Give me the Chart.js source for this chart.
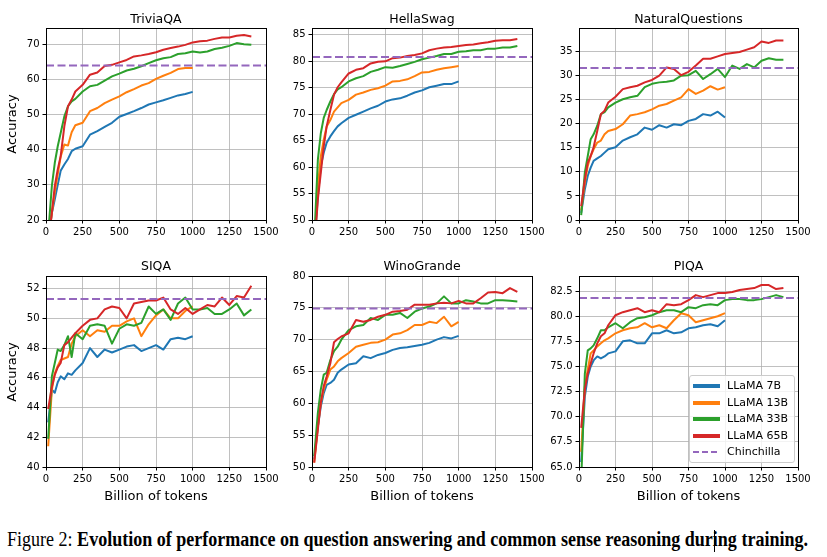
<!DOCTYPE html>
<html>
<head>
<meta charset="utf-8">
<script src="https://cdn.jsdelivr.net/npm/chart.js@4.4.1/dist/chart.umd.min.js"></script>
<style>
html,body{margin:0;padding:0;background:#fff;}
body{width:827px;height:557px;position:relative;overflow:hidden;font-family:'DejaVu Sans',sans-serif;color:#000;}
canvas{position:absolute;}
.ptitle{position:absolute;font-size:12.5px;line-height:15px;text-align:center;white-space:nowrap;}
.xlab{position:absolute;font-size:13px;line-height:16px;text-align:center;white-space:nowrap;}
.ylab{position:absolute;font-size:13px;line-height:16px;width:120px;height:16px;text-align:center;white-space:nowrap;transform:rotate(-90deg);}
#legend{position:absolute;left:689px;top:375px;width:104px;height:86px;border:1px solid #cccccc;border-radius:3px;background:rgba(255,255,255,0.8);z-index:5;}
.lrow{position:absolute;left:0;height:16px;width:104px;}
.lh{position:absolute;left:3px;width:27px;top:6px;height:4px;}
.lt{position:absolute;left:37px;top:0;font-size:11px;line-height:16px;white-space:nowrap;}
#caption{position:absolute;left:7px;top:529px;font-family:'Liberation Serif','Times New Roman',serif;font-size:20px;line-height:20px;white-space:nowrap;transform-origin:0 0;}
#caption b{font-weight:bold;}
#cursor{position:absolute;left:714px;top:530px;width:1px;height:22px;background:#000;z-index:6;}
</style>
</head>
<body>
<div id="legend"></div>
<div id="caption">Figure 2: <b>Evolution of performance on question answering and common sense reasoning during training.</b></div>
<div id="cursor"></div>
<script>
// ---------- data ----------
const benchmarks = ['TriviaQA', 'HellaSwag', 'NaturalQuestions', 'SIQA', 'WinoGrande', 'PIQA'];
const models = ['LLaMA 7B', 'LLaMA 13B', 'LLaMA 33B', 'LLaMA 65B'];
const tokensShort = [15, 40, 60, 80, 100, 125, 150, 175, 200, 250, 300, 350, 400, 450, 500, 550, 600, 650, 700, 750, 800, 850, 900, 950, 1000];
const tokensLong = [15, 40, 60, 80, 100, 125, 150, 175, 200, 250, 300, 350, 400, 450, 500, 550, 600, 650, 700, 750, 800, 850, 900, 950, 1000, 1050, 1100, 1150, 1200, 1250, 1300, 1350, 1400];
const xTicks = [0, 250, 500, 750, 1000, 1250, 1500];

const triviaqa7 = [14, 22, 25.9, 30, 34, 35.8, 37.4, 39.6, 40.3, 41, 44.3, 45.3, 46.5, 47.7, 49.4, 50.2, 51, 51.9, 52.9, 53.5, 54.1, 54.8, 55.5, 55.9, 56.5];
const triviaqa13 = [14, 22, 28, 33, 38, 41.5, 41.2, 45, 47, 47.7, 51, 51.9, 53.3, 54.3, 55.2, 56.4, 57.3, 58.3, 59, 60.2, 61.1, 61.9, 63, 63.3, 63.3];
const triviaqa33 = [16, 29.7, 36.3, 41, 44.8, 49.5, 52.4, 53.8, 54.5, 56.6, 58.1, 58.5, 59.7, 60.9, 61.7, 62.6, 63.1, 63.8, 64.7, 65.5, 66.1, 66.4, 67.3, 67.5, 68, 67.7, 68, 68.7, 69.1, 69.6, 70.4, 70.1, 69.9];
const triviaqa65 = [13, 22, 29.7, 34.4, 38.2, 46.7, 52.4, 54.3, 56.6, 58.5, 61.4, 62, 63.9, 64.2, 64.9, 65.6, 66.6, 66.9, 67.3, 67.8, 68.5, 69, 69.4, 69.9, 70.6, 70.9, 71.1, 71.6, 72, 72, 72.5, 72.7, 72.3];

const hellaswag7 = [45, 54.5, 60.2, 62.7, 64.6, 65.8, 66.8, 67.7, 68.3, 69.3, 69.9, 70.5, 71.1, 71.6, 72.4, 72.8, 73, 73.5, 74.1, 74.5, 75.1, 75.4, 75.7, 75.7, 76.2];
const hellaswag13 = [45, 56.4, 62, 65.2, 67.7, 68.9, 70.5, 71.3, 72.1, 72.7, 73.7, 74.1, 74.6, 74.9, 75.4, 76.2, 76.3, 76.6, 77.2, 77.9, 78, 78.4, 78.7, 78.9, 79.1];
const hellaswag33 = [46, 61.4, 66.4, 69.3, 70.8, 72.4, 73.8, 74.7, 75.1, 76.2, 76.8, 77.2, 78, 78.4, 78.9, 78.8, 79.1, 79.5, 79.9, 80.4, 80.7, 81, 81.4, 81.4, 81.8, 81.9, 82.1, 82.1, 82.4, 82.4, 82.6, 82.6, 82.9];
const hellaswag65 = [44, 53.9, 58.9, 63.9, 67.7, 70.8, 73.7, 75.1, 76, 77.7, 78.4, 78.7, 79.6, 79.9, 80, 80.6, 80.7, 81, 81.2, 81.5, 82.1, 82.4, 82.6, 82.7, 82.9, 83.1, 83.2, 83.4, 83.6, 83.9, 84, 84, 84.2];

const nq7 = [1.5, 6.4, 9.2, 10.9, 12.3, 12.8, 13.3, 14, 14.7, 15.1, 16.5, 17.2, 17.8, 19.2, 18.75, 19.7, 19.2, 19.9, 19.7, 20.6, 21, 22, 21.7, 22.5, 21.3];
const nq13 = [2, 7.8, 11.25, 13.3, 14.7, 16.1, 16.5, 17.8, 18.5, 18.9, 19.9, 21.7, 22, 22.4, 23, 23.75, 24.1, 24.8, 25.5, 27.2, 26.2, 26.9, 27.8, 27.1, 27.6];
const nq33 = [1, 9.9, 13.3, 16.8, 17.8, 19.6, 22, 22.4, 23.4, 24.4, 25.1, 25.5, 25.8, 27.6, 28.3, 28.6, 28.75, 29, 30, 30.1, 31, 29.3, 30.3, 31.4, 29.7, 32.1, 31.4, 32.4, 31.7, 33.1, 33.6, 33.3, 33.3];
const nq65 = [2.9, 8.5, 11.9, 13.3, 15.1, 18.5, 22, 22.7, 24.4, 25.6, 27.2, 27.6, 27.9, 28.6, 29.1, 30, 31.7, 31.4, 30.1, 30.8, 32.1, 33.5, 33.5, 34, 34.5, 34.7, 34.9, 35.4, 35.9, 37.1, 36.8, 37.3, 37.3];

const siqa7 = [43, 45.2, 45, 45.7, 46.1, 45.9, 46.3, 46.2, 46.5, 47, 48, 47.4, 47.9, 47.7, 47.9, 48.1, 48.2, 47.8, 48, 48.2, 47.9, 48.6, 48.7, 48.6, 48.8];
const siqa13 = [41.4, 45.2, 46.3, 46.8, 47.2, 47.3, 47.4, 48.3, 48.8, 49.2, 48.8, 49.2, 49.1, 49.5, 49.5, 49.8, 50, 48.8, 49.6, 50.2, 50.6, 50, 50, 50.5, 50.8];
const siqa33 = [41.9, 46.1, 47, 47.9, 47.8, 48.2, 48.8, 47.4, 49, 48.6, 49.5, 49.6, 49.5, 48.3, 49.3, 49.6, 49.5, 49.7, 50.8, 50.3, 50.6, 49.9, 51, 51.4, 50.6, 50.6, 50.7, 50.3, 50.3, 50.6, 51, 50.2, 50.6];
const siqa65 = [43.9, 45.4, 46.2, 46.7, 47, 48.2, 48.4, 48.7, 49, 49.5, 49.9, 50, 50.6, 50.8, 50.7, 50, 51, 51.1, 51.2, 51.2, 51.4, 50.6, 50.3, 50.7, 50.3, 50.6, 50.9, 50.8, 51.4, 50.9, 51.5, 51.4, 52.2];

const wino7 = [51.2, 56.4, 59.5, 61.6, 62.9, 63.2, 63.7, 64.8, 65.3, 66.1, 66.3, 67.4, 67.1, 67.6, 67.9, 68.4, 68.7, 68.8, 69, 69.2, 69.5, 70, 70.4, 70.2, 70.6];
const wino13 = [50.7, 56.4, 60.1, 62.2, 63.7, 65.3, 65.8, 66.6, 67.1, 67.9, 68.9, 69.2, 69.5, 69.6, 70, 70.8, 71, 71.5, 72.3, 72.3, 72.8, 72.6, 73.6, 72.1, 72.8];
const wino33 = [51.7, 58.5, 62.2, 64.5, 64.8, 66.8, 68.2, 68.9, 70, 71.5, 72.1, 72.3, 73.4, 73.1, 73.9, 73.9, 74.2, 73.4, 74.4, 74.9, 75.2, 75.7, 76.8, 75.7, 75.7, 76.2, 76, 75.7, 75.7, 76.2, 76.2, 76.1, 76];
const wino65 = [50.7, 55.9, 60.1, 62.7, 64.2, 66.3, 69.6, 70.1, 70.5, 71, 73.1, 72.8, 73.1, 73.6, 73.9, 74.4, 74.5, 74.7, 75.5, 75.5, 75.5, 75.7, 75.8, 75.7, 76.1, 75.7, 75.7, 76.5, 77.4, 77.5, 77.3, 78.1, 77.5];

const piqa7 = [65.5, 72, 74, 75, 75.6, 76, 75.8, 76, 76.3, 76.5, 77.5, 77.6, 77.3, 77.3, 78.3, 78.3, 78.6, 78.3, 78.4, 78.8, 78.9, 79.1, 79.2, 79, 79.6];
const piqa13 = [66.5, 73, 74.7, 76.3, 76.6, 77, 77.3, 77.6, 77.8, 78.3, 78.6, 78.8, 78.9, 79.3, 78.9, 79.1, 78.8, 79.6, 80.3, 80.1, 79.4, 79.6, 79.8, 80, 80.3];
const piqa33 = [63.5, 74.3, 76.6, 76.8, 77.1, 77.8, 78.6, 78.6, 78.9, 79.3, 78.8, 79.4, 79.8, 79.9, 80.1, 80.4, 80.6, 80.6, 80.4, 80.9, 80.8, 81.1, 81.2, 81.1, 81.6, 81.7, 81.7, 81.6, 81.6, 81.7, 81.9, 82.1, 81.9];
const piqa65 = [68.9, 72.7, 74.3, 75.3, 76.3, 77.3, 78, 78.3, 79.1, 80.1, 80.4, 80.6, 80.8, 80.4, 80.6, 80.4, 81.2, 81.1, 81.2, 81.6, 82.1, 81.9, 82.1, 82.3, 82.3, 82.4, 82.6, 82.7, 82.8, 83.1, 83.1, 82.7, 82.8];

const chinchilla = [64.0, 80.8, 31.6, 51.3, 74.9, 81.8];
const yMin = [20, 50, 0, 40, 50, 65];
const yMax = [74.7, 86.3, 39.9, 52.85, 80, 84];
const yStep = [10, 5, 5, 2, 5, 2.5];
const yDecimals = [0, 0, 0, 0, 0, 1];

const seriesByPanel = [
  [triviaqa7, triviaqa13, triviaqa33, triviaqa65],
  [hellaswag7, hellaswag13, hellaswag33, hellaswag65],
  [nq7, nq13, nq33, nq65],
  [siqa7, siqa13, siqa33, siqa65],
  [wino7, wino13, wino33, wino65],
  [piqa7, piqa13, piqa33, piqa65]
];

// ---------- layout / style ----------
const colors = ['#1f77b4', '#ff7f0e', '#2ca02c', '#d62728'];
const chinColor = '#9467bd';
const colLeft = [46, 312, 579], colW = [220, 220, 219];
const rowTop = [28, 276], rowH = [192, 191];
const YW = 46, XH = 28, PADT = 14, PADR = 22;

Chart.defaults.font.family = "'DejaVu Sans', sans-serif";
Chart.defaults.color = '#000';

const frame = {
  id: 'frame',
  afterDatasetsDraw(c) {
    const a = c.chartArea, x = c.ctx;
    x.save();
    x.strokeStyle = '#000';
    x.lineWidth = 1;
    const l = Math.round(a.left), t = Math.round(a.top), r = Math.round(a.right), b = Math.round(a.bottom);
    x.strokeRect(l + 0.5, t + 0.5, r - l, b - t);
    x.restore();
  }
};

function toXY(xs, ys) { return ys.map((y, k) => ({ x: xs[k], y: y })); }

function addDiv(cls, text, css) {
  const d = document.createElement('div');
  d.className = cls; d.textContent = text;
  Object.assign(d.style, css);
  document.body.appendChild(d);
  return d;
}

function build(i) {
  const col = i % 3, row = Math.floor(i / 3);
  const P = { left: colLeft[col], top: rowTop[row], w: colW[col], h: rowH[row] };
  const cv = document.createElement('canvas');
  const W = P.w + YW + PADR, H = P.h + PADT + XH;
  cv.width = W; cv.height = H;
  cv.style.width = W + 'px'; cv.style.height = H + 'px';
  cv.style.left = (P.left - YW) + 'px'; cv.style.top = (P.top - PADT) + 'px';
  document.body.appendChild(cv);
  const s = seriesByPanel[i];
  const ds = [{
    label: 'Chinchilla',
    data: [{ x: 0, y: chinchilla[i] }, { x: 1500, y: chinchilla[i] }],
    borderColor: chinColor, borderDash: [8, 3.5], borderWidth: 2, order: 0
  }];
  for (let m = 3; m >= 0; m--) {
    ds.push({
      label: models[m],
      data: toXY(m < 2 ? tokensShort : tokensLong, s[m]),
      borderColor: colors[m], borderWidth: 2, order: 4 - m
    });
  }
  const dec = yDecimals[i];
  const chart = new Chart(cv, {
    type: 'line',
    data: { datasets: ds },
    options: {
      responsive: false, animation: false, devicePixelRatio: 1,
      layout: { padding: { left: 0, top: PADT, right: PADR, bottom: 0 } },
      plugins: { legend: { display: false }, tooltip: { enabled: false }, title: { display: false } },
      elements: { point: { radius: 0 }, line: { tension: 0, fill: false, borderJoinStyle: 'round', borderCapStyle: 'butt' } },
      datasets: { line: { clip: 0 } },
      scales: {
        x: {
          type: 'linear', min: 0, max: 1500,
          afterFit(sc) { sc.height = XH; },
          afterBuildTicks(sc) { sc.ticks = xTicks.map(v => ({ value: v })); },
          ticks: { autoSkip: false, maxRotation: 0, minRotation: 0, padding: 3, font: { size: 10 }, color: '#000', callback: v => String(v) },
          grid: { color: '#b0b0b0', lineWidth: 0.8, tickColor: '#000', tickLength: 3.5, tickWidth: 1, drawTicks: true },
          border: { display: false }
        },
        y: {
          type: 'linear', min: yMin[i], max: yMax[i],
          afterFit(sc) { sc.width = YW; },
          ticks: { stepSize: yStep[i], includeBounds: false, padding: 3, font: { size: 10 }, color: '#000', callback: v => Number(v).toFixed(dec) },
          grid: { color: '#b0b0b0', lineWidth: 0.8, tickColor: '#000', tickLength: 3.5, tickWidth: 1, drawTicks: true },
          border: { display: false }
        }
      }
    },
    plugins: [frame]
  });
  // align chart area precisely with intended plot box
  const ca = chart.chartArea;
  cv.style.left = (P.left - ca.left) + 'px';
  cv.style.top = (P.top - ca.top) + 'px';

  // panel title
  addDiv('ptitle', benchmarks[i], { left: P.left + 'px', width: P.w + 'px', top: (row === 0 ? 11 : 257.5) + 'px' });
  if (row === 1) addDiv('xlab', 'Billion of tokens', { left: P.left + 'px', width: P.w + 'px', top: '488px' });
  if (col === 0) addDiv('ylab', 'Accuracy', { left: (12 - 60) + 'px', top: (P.top + P.h / 2 - 8) + 'px' });
}

for (let i = 0; i < 6; i++) build(i);

// legend (HTML)
const lg = document.getElementById('legend');
const labels = models.concat(['Chinchilla']);
labels.forEach((lab, k) => {
  const r = document.createElement('div');
  r.className = 'lrow';
  r.style.top = (2 + k * 16.5) + 'px';
  const h = document.createElement('div');
  h.className = 'lh';
  if (k < 4) { h.style.background = colors[k]; }
  else {
    h.style.top = '7px'; h.style.height = '2px';
    h.style.background = 'repeating-linear-gradient(to right,' + chinColor + ' 0 6px, transparent 6px 9px)';
  }
  const t = document.createElement('div');
  t.className = 'lt'; t.textContent = lab;
  r.appendChild(h); r.appendChild(t);
  lg.appendChild(r);
});

// caption horizontal fit
const cap = document.getElementById('caption');
const cw = cap.getBoundingClientRect().width;
cap.style.transform = 'scaleX(' + (801 / cw) + ')';
</script>
</body>
</html>
